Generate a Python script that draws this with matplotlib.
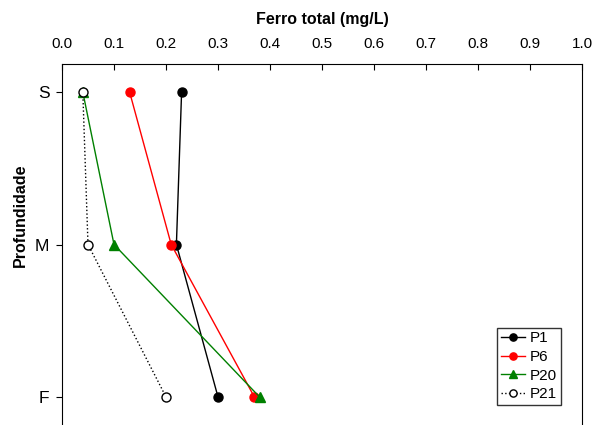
import numpy as np
import matplotlib.pyplot as plt

plt.rcParams['font.family'] = ['Liberation Sans', 'DejaVu Sans']

profundidade = ['S', 'M', 'F']
p1 = [0.23, 0.22, 0.30]
p6 = [0.13, 0.21, 0.37]
p20 = [0.04, 0.10, 0.38]
p21 = [0.04, 0.05, 0.20]

y = np.arange(len(profundidade))

fig = plt.figure(figsize=(5.95, 4.25), dpi=100)
# axes run off the bottom edge of the figure
ax = fig.add_axes([62/595, 1 - 440/425, 520/595, (440 - 64)/425])

ax.plot(p1, y, color='black', marker='o', ms=6.5, lw=1, label='P1')
ax.plot(p6, y, color='red', marker='o', ms=6.5, lw=1, label='P6')
ax.plot(p20, y, color='green', marker='^', ms=7, lw=1, label='P20')
ax.plot(p21, y, color='black', marker='o', ms=6.5, lw=1, ls=':',
        mfc='white', mec='black', label='P21')

ax.set_xlim(0, 1.0)
ax.set_ylim(2 + 43/152.5, -28/152.5)
ax.set_xticks(np.arange(0, 1.01, 0.1))
ax.set_xticklabels([f'{v:.1f}' for v in np.arange(0, 1.01, 0.1)])
ax.set_yticks(y)
ax.set_yticklabels(profundidade)

ax.xaxis.tick_top()
ax.xaxis.set_label_position('top')
ax.tick_params(axis='x', direction='in', length=4, labelsize=11, pad=9)
ax.tick_params(axis='y', direction='out', length=4, labelsize=12.5, pad=5)
ax.set_xlabel('Ferro total (mg/L)', fontsize=11.5, fontweight='bold', labelpad=10)
ax.set_ylabel('Profundidade', fontsize=11.5, fontweight='bold')
ax.yaxis.set_label_coords(-0.066, (440 - 215)/376)

leg = ax.legend(loc='lower left', bbox_to_anchor=(435/520, (440 - 405)/376, 0.1, 0.1),
                frameon=True, fancybox=False, edgecolor='black', fontsize=11,
                handlelength=1.6, handletextpad=0.3, borderpad=0.25, labelspacing=0.3,
                borderaxespad=0, markerscale=0.8)
leg.get_frame().set_linewidth(1)

plt.savefig('out.png', dpi=100)
